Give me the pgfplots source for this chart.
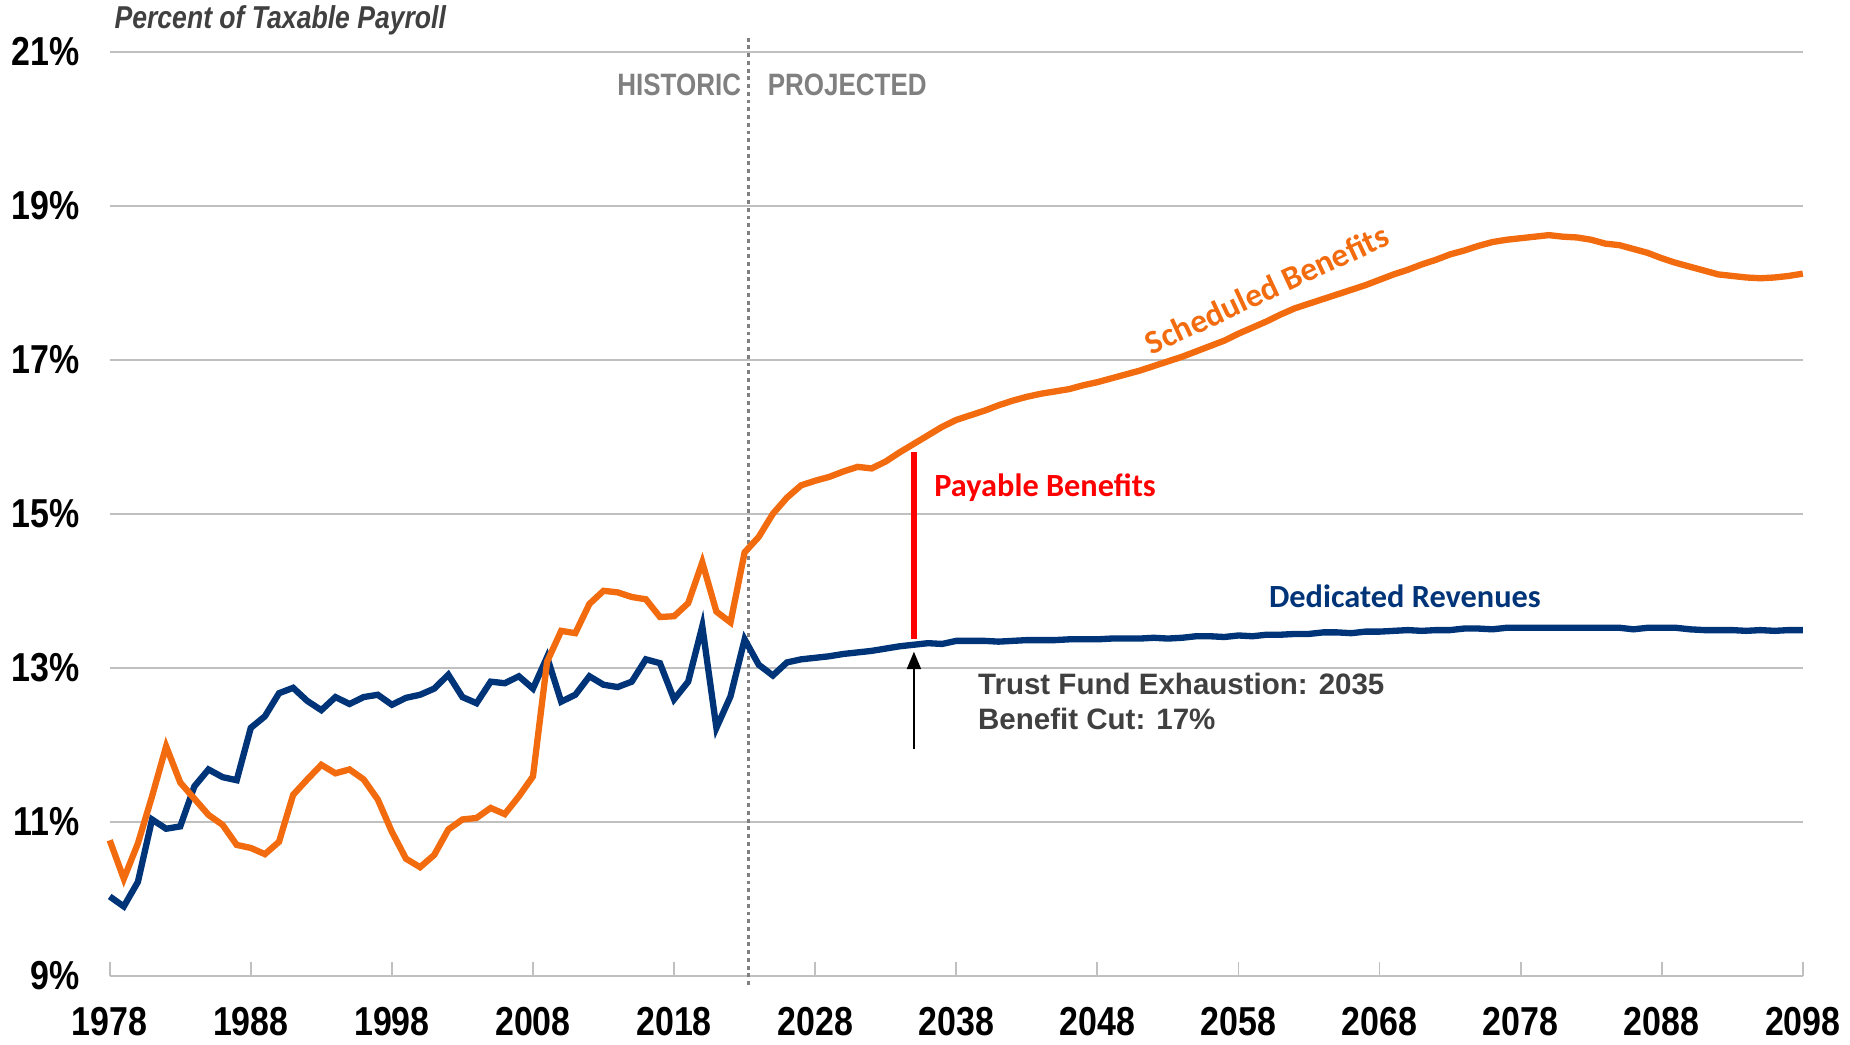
\documentclass[border=0pt]{standalone}
\usepackage{fontspec}
\setmainfont{Liberation Sans}
\newfontfamily\narrow[FakeStretch=0.84]{Liberation Sans}
\newfontfamily\calib{Carlito}
\usepackage{pgfplots}
\pgfplotsset{compat=1.18}
\usetikzlibrary{arrows.meta}
\definecolor{schedorange}{HTML}{F26B0E}
\definecolor{revblue}{HTML}{003478}
\definecolor{payred}{HTML}{FF0000}
\definecolor{gridgray}{HTML}{C0C0C0}
\definecolor{notegray}{HTML}{404040}
\definecolor{histgray}{HTML}{808080}

\pgfplotstableread{
year rev
1978 10.03
1979 9.90
1980 10.22
1981 11.03
1982 10.91
1983 10.94
1984 11.46
1985 11.68
1986 11.58
1987 11.54
1988 12.22
1989 12.37
1990 12.67
1991 12.74
1992 12.57
1993 12.45
1994 12.62
1995 12.53
1996 12.62
1997 12.65
1998 12.52
1999 12.61
2000 12.65
2001 12.73
2002 12.91
2003 12.62
2004 12.54
2005 12.82
2006 12.80
2007 12.89
2008 12.73
2009 13.14
2010 12.56
2011 12.65
2012 12.89
2013 12.78
2014 12.75
2015 12.82
2016 13.11
2017 13.06
2018 12.59
2019 12.82
2020 13.54
2021 12.22
2022 12.63
2023 13.37
2024 13.04
2025 12.90
2026 13.07
2027 13.11
2028 13.13
2029 13.15
2030 13.18
2031 13.20
2032 13.22
2033 13.25
2034 13.28
2035 13.30
2036 13.32
2037 13.31
2038 13.35
2039 13.35
2040 13.35
2041 13.34
2042 13.35
2043 13.36
2044 13.36
2045 13.36
2046 13.37
2047 13.37
2048 13.37
2049 13.38
2050 13.38
2051 13.38
2052 13.39
2053 13.38
2054 13.39
2055 13.41
2056 13.41
2057 13.40
2058 13.42
2059 13.41
2060 13.43
2061 13.43
2062 13.44
2063 13.44
2064 13.46
2065 13.46
2066 13.45
2067 13.47
2068 13.47
2069 13.48
2070 13.49
2071 13.48
2072 13.49
2073 13.49
2074 13.51
2075 13.51
2076 13.50
2077 13.52
2078 13.52
2079 13.52
2080 13.52
2081 13.52
2082 13.52
2083 13.52
2084 13.52
2085 13.52
2086 13.50
2087 13.52
2088 13.52
2089 13.52
2090 13.50
2091 13.49
2092 13.49
2093 13.49
2094 13.48
2095 13.49
2096 13.48
2097 13.49
2098 13.49
}\revenues

\pgfplotstableread{
year ben
1978 10.76
1979 10.26
1980 10.72
1981 11.33
1982 11.98
1983 11.51
1984 11.30
1985 11.09
1986 10.96
1987 10.70
1988 10.66
1989 10.58
1990 10.74
1991 11.35
1992 11.55
1993 11.74
1994 11.63
1995 11.68
1996 11.55
1997 11.29
1998 10.87
1999 10.52
2000 10.41
2001 10.57
2002 10.90
2003 11.03
2004 11.05
2005 11.18
2006 11.10
2007 11.33
2008 11.59
2009 13.08
2010 13.48
2011 13.45
2012 13.83
2013 14.00
2014 13.98
2015 13.92
2016 13.89
2017 13.66
2018 13.67
2019 13.84
2020 14.37
2021 13.73
2022 13.59
2023 14.50
2024 14.70
2025 15.00
2026 15.21
2027 15.37
2028 15.43
2029 15.48
2030 15.55
2031 15.61
2032 15.59
2033 15.68
2034 15.80
2035 15.91
2036 16.02
2037 16.13
2038 16.22
2039 16.28
2040 16.34
2041 16.41
2042 16.47
2043 16.52
2044 16.56
2045 16.59
2046 16.62
2047 16.67
2048 16.71
2049 16.76
2050 16.81
2051 16.86
2052 16.92
2053 16.98
2054 17.04
2055 17.11
2056 17.18
2057 17.25
2058 17.34
2059 17.42
2060 17.50
2061 17.59
2062 17.67
2063 17.73
2064 17.79
2065 17.85
2066 17.91
2067 17.97
2068 18.04
2069 18.11
2070 18.17
2071 18.24
2072 18.30
2073 18.37
2074 18.42
2075 18.48
2076 18.53
2077 18.56
2078 18.58
2079 18.60
2080 18.62
2081 18.60
2082 18.59
2083 18.56
2084 18.51
2085 18.49
2086 18.44
2087 18.39
2088 18.32
2089 18.26
2090 18.21
2091 18.16
2092 18.11
2093 18.09
2094 18.07
2095 18.06
2096 18.07
2097 18.09
2098 18.12
}\benefits

\begin{document}
\begin{tikzpicture}
% fix the page to the reference's proportions
\path[use as bounding box] (-1.097,-0.684) rectangle (17.402,9.757);
\begin{axis}[
  at={(0,0)}, anchor=south west,
  scale only axis,
  width=16.930cm, height=9.238cm,
  xmin=1978, xmax=2098, ymin=9, ymax=21,
  axis x line*=bottom, axis y line*=left,
  y axis line style={draw=none},
  x axis line style={draw=gridgray, line width=0.7pt},
  xtick={1978,1988,...,2098},
  xticklabels={1978,1988,1998,2008,2018,2028,2038,2048,2058,2068,2078,2088,2098},
  ytick={9,11,...,21},
  yticklabels={9\%,11\%,13\%,15\%,17\%,19\%,21\%},
  ymajorgrids,
  grid style={gridgray, line width=0.6pt},
  major y tick style={draw=none},
  major x tick style={gridgray, line width=0.5pt},
  tick align=inside, major tick length=4pt,
  ticklabel style={font=\narrow\bfseries\fontsize{11.5}{12}\selectfont, text=black},
  yticklabel style={xshift=-5pt},
  xticklabel style={yshift=-5.5pt},
  clip=false,
]
\draw[histgray, line width=0.8pt, dash pattern=on 1.1pt off 1.1pt] (axis cs:2023.3,8.88) -- (axis cs:2023.3,21.21);
\addplot[revblue, line width=1.8pt] table[x=year, y=rev] {\revenues};
\addplot[schedorange, line width=1.8pt] table[x=year, y=ben] {\benefits};

\draw[payred, line width=1.5pt] (axis cs:2035,13.38) -- (axis cs:2035,15.80);
\draw[black, line width=0.6pt, -{Triangle[length=5pt,width=4pt]}] (axis cs:2035,11.94) -- (axis cs:2035,13.21);

\node[anchor=west, inner sep=0pt, font=\narrow\bfseries\itshape\fontsize{9}{11}\selectfont, text=notegray] at (axis cs:1978.3,21.41) {Percent of Taxable Payroll};
\node[anchor=east, inner sep=0pt, font=\narrow\bfseries\fontsize{8.8}{11}\selectfont, text=histgray] at (axis cs:2022.8,20.57) {HISTORIC};
\node[anchor=west, inner sep=0pt, font=\narrow\bfseries\fontsize{8.8}{11}\selectfont, text=histgray] at (axis cs:2024.6,20.57) {PROJECTED};

\node[rotate=25, inner sep=0pt, font=\calib\bfseries\fontsize{9.5}{11}\selectfont, text=schedorange] at (axis cs:2060.0,17.92) {Scheduled Benefits};
\node[anchor=west, inner sep=0pt, font=\calib\bfseries\fontsize{9.2}{11}\selectfont, text=payred] at (axis cs:2036.4,15.34) {Payable Benefits};
\node[inner sep=0pt, font=\calib\bfseries\fontsize{9.2}{11}\selectfont, text=revblue] at (axis cs:2069.8,13.93) {Dedicated Revenues};
\node[anchor=west, inner sep=0pt, font=\bfseries\fontsize{8.4}{11}\selectfont, text=notegray] at (axis cs:2039.5,12.79) {Trust Fund Exhaustion: 2035};
\node[anchor=west, inner sep=0pt, font=\bfseries\fontsize{8.4}{11}\selectfont, text=notegray] at (axis cs:2039.5,12.33) {Benefit Cut: 17\%};
\end{axis}
\end{tikzpicture}
\end{document}
